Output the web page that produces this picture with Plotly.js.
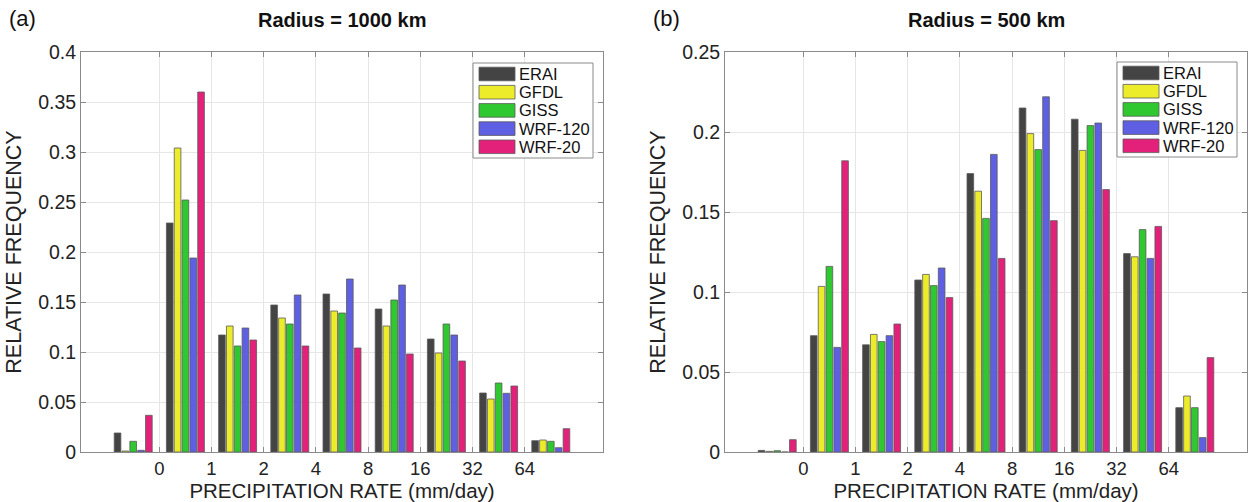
<!DOCTYPE html>
<html>
<head>
<meta charset="utf-8">
<script src="https://cdn.plot.ly/plotly-3.0.1.min.js"></script>
<style>html,body{margin:0;padding:0;background:#fff;}#chart{width:1249px;height:502px;}</style>
</head>
<body>
<div id="chart"></div>
<script>
// Precipitation-rate bins (9 bins) and the bin-edge tick labels (8 edges)
const bins = ['<0', '0-1', '1-2', '2-4', '4-8', '8-16', '16-32', '32-64', '>64'];
const edgeLabels = ['0', '1', '2', '4', '8', '16', '32', '64'];
const seriesNames = ['ERAI', 'GFDL', 'GISS', 'WRF-120', 'WRF-20'];

// Panel (a): Radius = 1000 km
const r1000_ERAI   = [0.019, 0.229, 0.117, 0.147, 0.158, 0.143, 0.113, 0.059, 0.0113];
const r1000_GFDL   = [0.001, 0.304, 0.126, 0.134, 0.141, 0.126, 0.099, 0.053, 0.012];
const r1000_GISS   = [0.0107, 0.252, 0.106, 0.128, 0.139, 0.152, 0.128, 0.069, 0.0107];
const r1000_WRF120 = [0.0017, 0.194, 0.124, 0.157, 0.173, 0.167, 0.117, 0.0587, 0.0043];
const r1000_WRF20  = [0.0367, 0.360, 0.112, 0.106, 0.104, 0.098, 0.091, 0.066, 0.0233];

// Panel (b): Radius = 500 km
const r500_ERAI   = [0.001, 0.0727, 0.067, 0.1075, 0.174, 0.215, 0.208, 0.124, 0.0277];
const r500_GFDL   = [0.0004, 0.1035, 0.0735, 0.111, 0.163, 0.199, 0.1885, 0.122, 0.035];
const r500_GISS   = [0.0008, 0.116, 0.069, 0.104, 0.146, 0.189, 0.204, 0.139, 0.0277];
const r500_WRF120 = [0.0, 0.0654, 0.0727, 0.115, 0.186, 0.222, 0.2056, 0.121, 0.009];
const r500_WRF20  = [0.0077, 0.182, 0.080, 0.0965, 0.121, 0.1446, 0.164, 0.141, 0.059];

const colors = ['#444444', '#ecec2a', '#30c830', '#5f5fe3', '#e4217a'];
const FONT = 'Liberation Sans, Arial, Helvetica, sans-serif';

// bins drawn at 1..9, bin edges at the half positions between them
const binPos = bins.map((b, i) => i + 1);
const edgePos = edgeLabels.map((e, i) => i + 1.5);

const panelA = [r1000_ERAI, r1000_GFDL, r1000_GISS, r1000_WRF120, r1000_WRF20];
const panelB = [r500_ERAI, r500_GFDL, r500_GISS, r500_WRF120, r500_WRF20];

const traces = [];
panelA.forEach((vals, k) => traces.push({
  type: 'bar', x: binPos, y: vals, name: seriesNames[k], xaxis: 'x', yaxis: 'y', showlegend: false,
  marker: {color: colors[k], line: {color: '#5a5a5a', width: 0.8}},
  customdata: bins, hovertemplate: '%{customdata}: %{y}<extra>' + seriesNames[k] + '</extra>'
}));
panelB.forEach((vals, k) => traces.push({
  type: 'bar', x: binPos, y: vals, name: seriesNames[k], xaxis: 'x2', yaxis: 'y2', showlegend: false,
  marker: {color: colors[k], line: {color: '#5a5a5a', width: 0.8}},
  customdata: bins, hovertemplate: '%{customdata}: %{y}<extra>' + seriesNames[k] + '</extra>'
}));

const axisCommon = {
  showline: true, linecolor: '#8a8a8a', linewidth: 1, mirror: 'ticks',
  ticks: 'inside', ticklen: 5, tickcolor: '#8a8a8a',
  showgrid: true, gridcolor: '#e6e6e6', gridwidth: 1, zeroline: false,
  tickfont: {family: FONT, size: 19.5, color: '#222'}
};
const xCommon = Object.assign({}, axisCommon, {
  range: [0, 10], tickmode: 'array', tickvals: edgePos, ticktext: edgeLabels,
  tickfont: {family: FONT, size: 18.5, color: '#222'},
  title: {text: 'PRECIPITATION RATE (mm/day)', font: {family: FONT, size: 20.5, color: '#222'}, standoff: 3}
});
const yCommon = Object.assign({}, axisCommon, {
  title: {text: 'RELATIVE FREQUENCY', font: {family: FONT, size: 21.5, color: '#222'}, standoff: 10}
});

const L = 40, R = 2, T = 52, B = 50, W = 1249, H = 502;
const pw = W - L - R;
const px = v => (v - L) / pw;          // pixel x -> paper x
const py = v => (H - B - v) / (H - T - B); // pixel y -> paper y

// Legend drawn as a boxed key (wide swatches as in the original figure)
const shapes = [];
const annotations = [];
function addKey(left, top) {
  const width = 120, height = 95, rowStep = 18.2, firstRow = 11;
  shapes.push({type: 'rect', xref: 'paper', yref: 'paper', layer: 'above',
    x0: px(left), x1: px(left + width), y0: py(top), y1: py(top + height),
    line: {color: '#8a8a8a', width: 1}, fillcolor: '#ffffff'});
  seriesNames.forEach((name, k) => {
    const cy = top + firstRow + k * rowStep;
    shapes.push({type: 'rect', xref: 'paper', yref: 'paper', layer: 'above',
      x0: px(left + 6), x1: px(left + 42), y0: py(cy - 6.8), y1: py(cy + 6.8),
      line: {color: '#5a5a5a', width: 0.8}, fillcolor: colors[k]});
    annotations.push({text: name, xref: 'paper', yref: 'paper', x: px(left + 44), y: py(cy),
      xanchor: 'left', yanchor: 'middle', showarrow: false,
      font: {family: FONT, size: 16.5, color: '#111'}});
  });
}
addKey(473, 63);
addKey(1117, 62);

annotations.push(
  {text: '<b>Radius = 1000 km</b>', xref: 'x domain', yref: 'paper', x: 0.5, y: py(20),
   xanchor: 'center', yanchor: 'middle', showarrow: false, font: {family: FONT, size: 20, color: '#111'}},
  {text: '<b>Radius = 500 km</b>', xref: 'x2 domain', yref: 'paper', x: 0.5, y: py(20),
   xanchor: 'center', yanchor: 'middle', showarrow: false, font: {family: FONT, size: 20, color: '#111'}},
  {text: '(a)', xref: 'paper', yref: 'paper', x: px(22), y: py(19),
   xanchor: 'center', yanchor: 'middle', showarrow: false, font: {family: FONT, size: 22, color: '#111'}},
  {text: '(b)', xref: 'paper', yref: 'paper', x: px(666), y: py(19),
   xanchor: 'center', yanchor: 'middle', showarrow: false, font: {family: FONT, size: 22, color: '#111'}}
);

const layout = {
  width: W, height: H,
  margin: {l: L, r: R, t: T, b: B, pad: 0},
  paper_bgcolor: '#ffffff', plot_bgcolor: '#ffffff',
  barmode: 'group', bargap: 0.25, bargroupgap: 0.15,
  showlegend: false,
  font: {family: FONT, color: '#222'},
  xaxis: Object.assign({}, xCommon, {domain: [px(81), px(603)], anchor: 'y'}),
  yaxis: Object.assign({}, yCommon, {domain: [0, 1], anchor: 'x', range: [0, 0.4], dtick: 0.05}),
  xaxis2: Object.assign({}, xCommon, {domain: [px(725), px(1247)], anchor: 'y2'}),
  yaxis2: Object.assign({}, yCommon, {domain: [0, 1], anchor: 'x2', range: [0, 0.25], dtick: 0.05}),
  shapes: shapes,
  annotations: annotations
};

Plotly.newPlot('chart', traces, layout, {displayModeBar: false});
</script>
</body>
</html>
